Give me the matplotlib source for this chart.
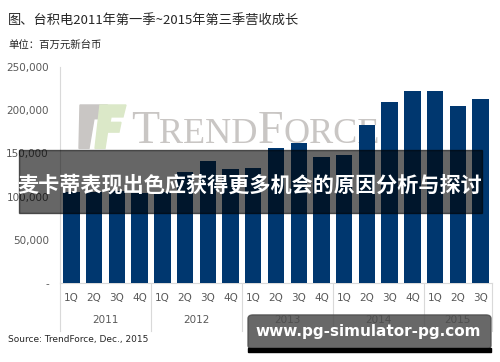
import matplotlib
matplotlib.use("Agg")
import matplotlib.pyplot as plt
from matplotlib.patches import FancyBboxPatch, Rectangle, Polygon
from matplotlib.ticker import FuncFormatter

plt.rcParams["font.family"] = ["Noto Sans CJK SC", "DejaVu Sans"]

years = ["2011", "2012", "2013", "2014", "2015"]
quarters = ["1Q", "2Q", "3Q", "4Q"]
n_per_year = [4, 4, 4, 4, 3]
revenue = [105500, 105600, 106500, 104700,
           105500, 128200, 141400, 131400,
           132800, 155900, 162600, 145800,
           148200, 183000, 209000, 222500,
           222000, 205400, 212500]
yticks = [0, 50000, 100000, 150000, 200000, 250000]

title = "图、台积电2011年第一季~2015年第三季营收成长"
unit = "单位：百万元新台币"
source = "Source: TrendForce, Dec., 2015"
banner = "麦卡蒂表现出色应获得更多机会的原因分析与探讨"
site = "www.pg-simulator-pg.com"

navy = "#00376f"
grey = "#595959"
line = "#d9d9d9"
wm = "#c9c6c4"

fig = plt.figure(figsize=(5, 3.62), dpi=100)
ax = fig.add_axes([0.12, 0.218, 0.864, 0.597])
ax.set_zorder(2)
ax.patch.set_alpha(0)

x = list(range(len(revenue)))
ax.bar(x, revenue, width=0.72, color=navy, zorder=3)
ax.set_xlim(-0.5, len(revenue) - 0.5)
ax.set_ylim(0, 250000)
ax.set_yticks(yticks)
ax.yaxis.set_major_formatter(FuncFormatter(lambda v, p: "-" if v == 0 else f"{int(v):,}"))
ax.tick_params(axis="y", length=0, labelsize=7.5, labelcolor=grey, pad=8)
for t in ax.get_yticklabels():
    t.set_family(["DejaVu Sans"])
ax.set_xticks([])
for s in ["top", "right"]:
    ax.spines[s].set_visible(False)
ax.spines["left"].set_color(line)
ax.spines["bottom"].set_color(line)

# two-level category axis
tr = ax.get_xaxis_transform()
labels = [q for n in n_per_year for q in quarters[:n]]
for i, q in enumerate(labels):
    ax.text(i, -0.07, q, transform=tr, ha="center", va="center", fontsize=7.5, color=grey,
            family=["DejaVu Sans"])
start = 0
bounds = [-0.5]
for y, n in zip(years, n_per_year):
    ax.text(start + (n - 1) / 2, -0.17, y, transform=tr, ha="center", va="center",
            fontsize=7.5, color=grey, family=["DejaVu Sans"])
    start += n
    bounds.append(start - 0.5)
for b in bounds:
    ax.plot([b, b], [0, -0.22], transform=tr, color=line, lw=0.8, clip_on=False)

# TrendForce watermark (behind the bars)
fig.patches.append(Polygon([[0.16, 0.71], [0.215, 0.71], [0.208, 0.672], [0.188, 0.672],
                            [0.178, 0.59], [0.158, 0.59]], closed=True,
                           transform=fig.transFigure, color=wm, zorder=1))
fig.patches.append(Polygon([[0.2, 0.71], [0.252, 0.71], [0.246, 0.677], [0.222, 0.677],
                            [0.22, 0.662], [0.242, 0.662], [0.238, 0.635], [0.215, 0.635],
                            [0.21, 0.59], [0.19, 0.59]], closed=True,
                           transform=fig.transFigure, color="#dbe8c8", zorder=1))
renderer = fig.canvas.get_renderer()
xpos = 0.262
for part, size in [("T", 33), ("REND", 26), ("F", 33), ("ORCE", 26)]:
    t = fig.text(xpos, 0.605, part, fontsize=size, color=wm, family=["Liberation Serif"],
                 va="baseline", ha="left", zorder=1)
    bb = t.get_window_extent(renderer)
    xpos += bb.width / fig.bbox.width

fig.text(0.016, 0.945, title, fontsize=9.5, color="#262626", va="center")
fig.text(0.016, 0.876, unit, fontsize=7.5, color="#262626", va="center")
fig.text(0.016, 0.062, source, fontsize=6.5, color="#262626", va="center", family=["DejaVu Sans"])

# banner overlay
fig.patches.append(Rectangle((0.038, 0.412), 0.926, 0.174, transform=fig.transFigure,
                             color="black", alpha=0.6, zorder=5))
fig.text(0.498, 0.49, banner, fontsize=15.2, fontweight="bold", color="white",
         ha="center", va="center", zorder=6)

# site badge
fig.patches.append(FancyBboxPatch((0.496, 0.036), 0.486, 0.094,
                                  boxstyle="round,pad=0,rounding_size=0.01",
                                  transform=fig.transFigure, color="#4d4d4d", alpha=0.85,
                                  zorder=5))
fig.patches.append(Rectangle((0.496, 0.028), 0.486, 0.012, transform=fig.transFigure,
                             color="black", zorder=5))
fig.text(0.737, 0.085, site, fontsize=11, fontweight="bold", color="white",
         ha="center", va="center", zorder=6, family=["DejaVu Sans"])

fig.savefig("out.png", dpi=100)
